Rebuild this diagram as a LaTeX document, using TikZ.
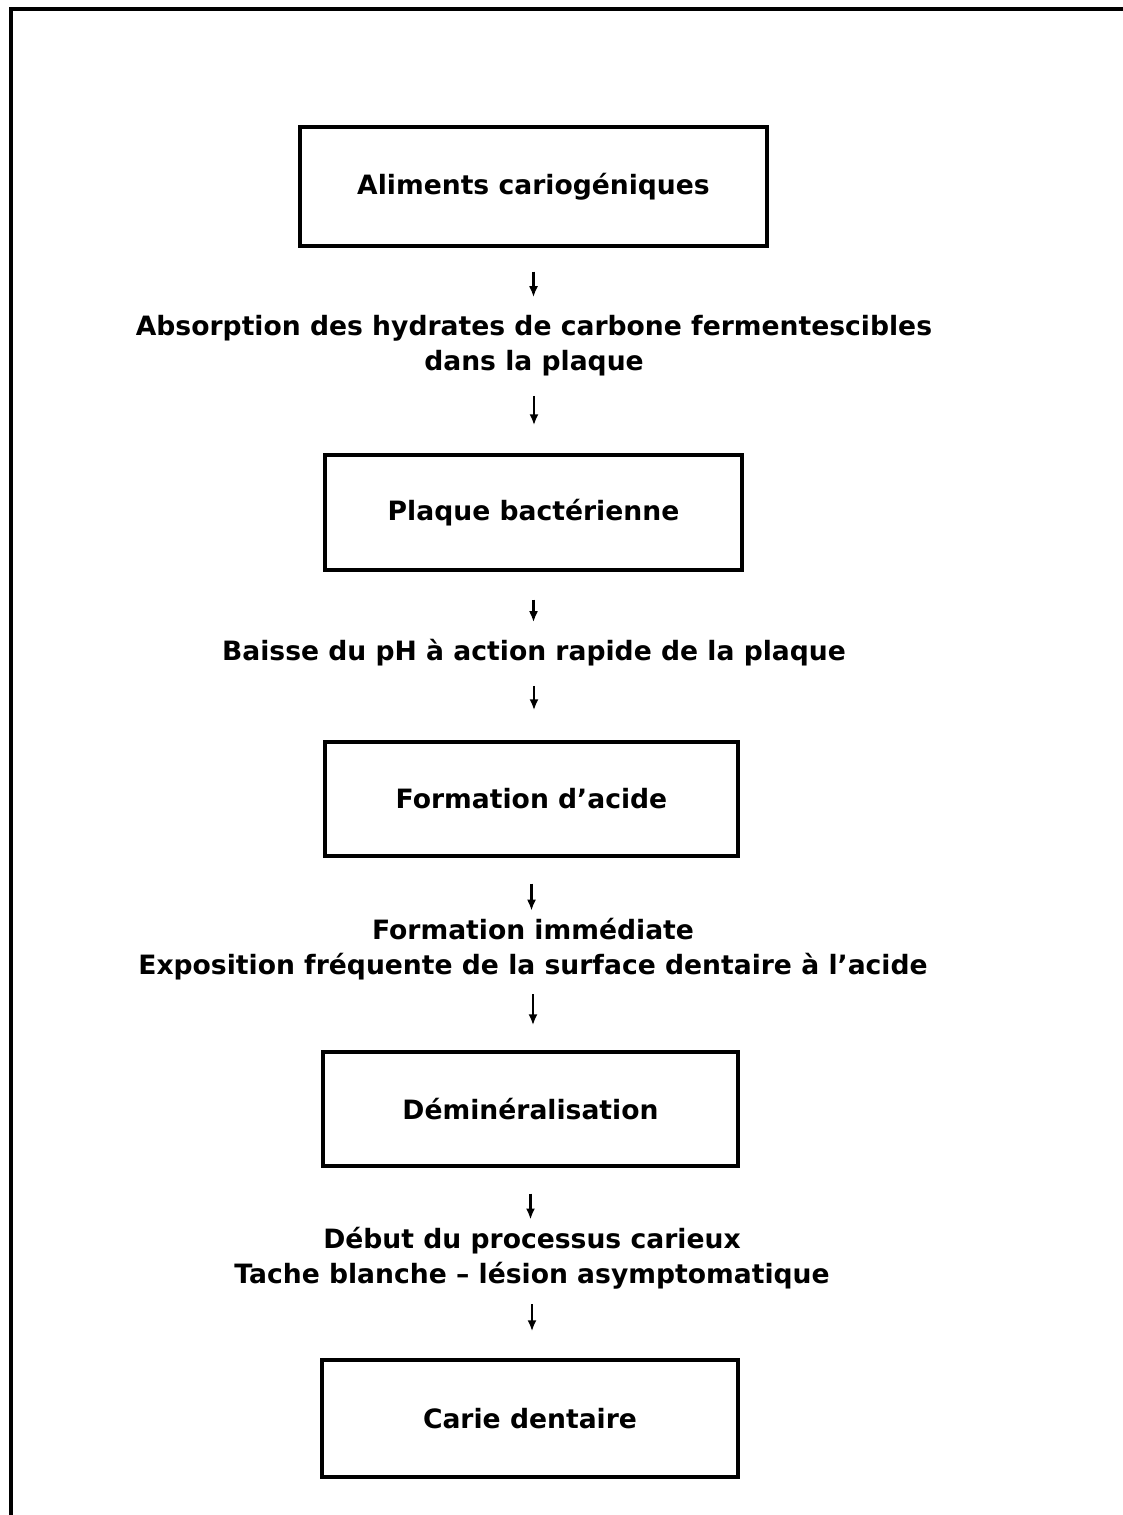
\documentclass[tikz,border=0pt]{standalone}
\usepackage{fontspec}
\setmainfont{DejaVu Sans}
\usepackage{tikz}
\usetikzlibrary{arrows.meta}

\newcommand{\flowfont}{\fontsize{13.3pt}{17.5pt}\selectfont\bfseries}

\tikzset{
  stage/.style={draw, rectangle, line width=1.7pt, inner sep=0pt, font=\flowfont},
  note/.style={align=center, inner sep=0pt, font=\flowfont},
  flow/.style={-{Latex[length=5.5pt,width=4.5pt]}, line width=1.1pt}
}

\begin{document}
\begin{tikzpicture}[x=0.5pt, y=-0.5pt]
\useasboundingbox (0,0) rectangle (1123,1515);
% Page frame
\draw[line width=2pt] (11,1515) -- (11,9) -- (1123,9);

% Stages
\node[stage, minimum width=233.5pt, minimum height=59.5pt] (alim) at (533.5,186.5) {Aliments cariogéniques};
\node[stage, minimum width=208.5pt, minimum height=57.5pt] (plaque) at (533.5,512.5) {Plaque bactérienne};
\node[stage, minimum width=206.5pt, minimum height=57pt] (acide) at (531.5,799) {Formation d'acide};
\node[stage, minimum width=207.5pt, minimum height=57pt] (demin) at (530.5,1109) {Déminéralisation};
\node[stage, minimum width=208pt, minimum height=58.5pt] (carie) at (530,1418.5) {Carie dentaire};

% Intermediate steps
\node[note] (absorb) at (534,346) {Absorption des hydrates de carbone fermentescibles\\dans la plaque};
\node[note] (baisse) at (534,653) {Baisse du pH à action rapide de la plaque};
\node[note] (expo) at (533,949) {Formation immédiate\\Exposition fréquente de la surface dentaire à l'acide};
\node[note] (debut) at (532,1258) {Début du processus carieux\\Tache blanche – lésion asymptomatique};

% Arrows
\draw[flow, shorten <=12pt, shorten >=9pt] (alim.south) -- (alim.south |- absorb.north);
\draw[flow, shorten <=9.5pt, shorten >=14pt] (absorb.south) -- (absorb.south |- plaque.north);
\draw[flow, shorten <=14pt, shorten >=8.5pt] (plaque.south) -- (plaque.south |- baisse.north);
\draw[flow, shorten <=9.5pt, shorten >=15pt] (baisse.south) -- (baisse.south |- acide.north);
\draw[flow, shorten <=13pt, shorten >=3.5pt] (acide.south) -- (acide.south |- expo.north);
\draw[flow, shorten <=7pt, shorten >=12.5pt] (expo.south) -- (expo.south |- demin.north);
\draw[flow, shorten <=13pt, shorten >=3.5pt] (demin.south) -- (demin.south |- debut.north);
\draw[flow, shorten <=7.5pt, shorten >=13.5pt] (debut.south) -- (debut.south |- carie.north);
\end{tikzpicture}
\end{document}
